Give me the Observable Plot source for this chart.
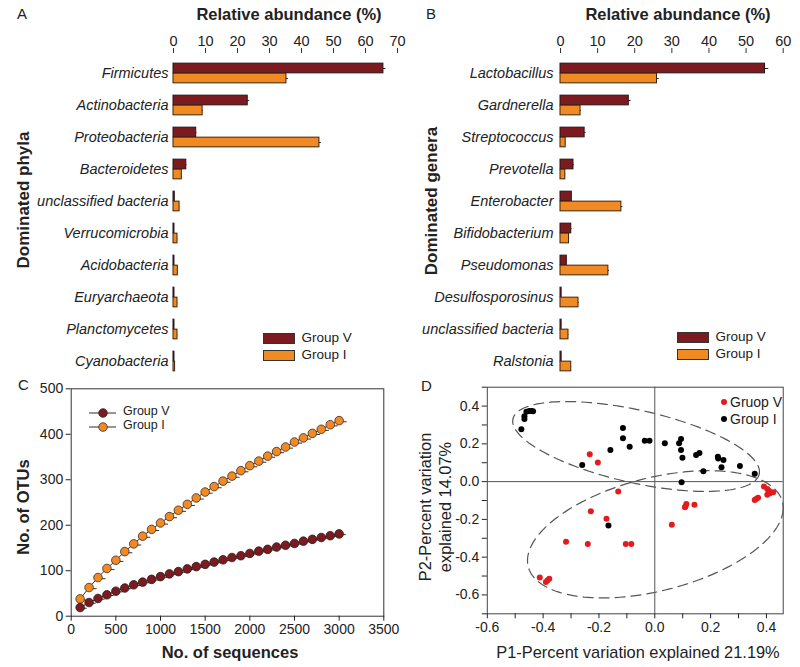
<!DOCTYPE html>
<html><head><meta charset="utf-8">
<script src="https://cdn.jsdelivr.net/npm/d3@7"></script>
<script src="https://cdn.jsdelivr.net/npm/@observablehq/plot@0.6"></script>
<style>
body{margin:0;background:#fff;}
#root{position:relative;width:800px;height:667px;font-family:"Liberation Sans",Arial,sans-serif;color:#222;overflow:hidden;background:#fff}
.p{position:absolute}
.t{position:absolute;white-space:nowrap;line-height:1}
.c{transform:translate(-50%,-50%)}
.r{transform:translate(-50%,-50%) rotate(-90deg)}
</style></head><body><div id="root"></div>
<script>
// ---------- DATA ----------
const groups = ["Group V", "Group I"];
const colorV = "#7B1A1F", colorI = "#F28A24";

// Panel A: dominated phyla (relative abundance %)
const phyla = ["Firmicutes","Actinobacteria","Proteobacteria","Bacteroidetes","unclassified bacteria","Verrucomicrobia","Acidobacteria","Euryarchaeota","Planctomycetes","Cyanobacteria"];
const phylaV = [65.6, 23.2, 7.1, 4.0, 0.4, 0.3, 0.3, 0.3, 0.3, 0.3];
const phylaI = [35.3, 9.1, 45.6, 2.6, 1.9, 1.25, 1.35, 1.25, 1.25, 0.5];
const phylaVErr = [0.8, 0.6, 0.2, 0.2, 0.05, 0.05, 0.05, 0.05, 0.05, 0.05];
const phylaIErr = [0.6, 0.3, 0.6, 0.1, 0.05, 0.05, 0.05, 0.05, 0.05, 0.05];
const phylaTicks = [0, 10, 20, 30, 40, 50, 60, 70];

// Panel B: dominated genera
const genera = ["Lactobacillus","Gardnerella","Streptococcus","Prevotella","Enterobacter","Bifidobacterium","Pseudomonas","Desulfosporosinus","unclassified bacteria","Ralstonia"];
const generaV = [55.1, 18.4, 6.5, 3.5, 3.05, 2.9, 1.7, 0.3, 0.3, 0.3];
const generaI = [26.0, 5.4, 1.4, 1.3, 16.4, 2.3, 12.9, 4.85, 2.15, 2.9];
const generaVErr = [1.0, 0.6, 0.4, 0.2, 0.1, 0.2, 0.1, 0.05, 0.05, 0.05];
const generaIErr = [0.6, 0.2, 0.1, 0.1, 0.4, 0.1, 0.3, 0.2, 0.1, 0.1];
const generaTicks = [0, 10, 20, 30, 40, 50, 60];

// Panel C: rarefaction curves
const sequences = [100,200,300,400,500,600,700,800,900,1000,1100,1200,1300,1400,1500,1600,1700,1800,1900,2000,2100,2200,2300,2400,2500,2600,2700,2800,2900,3000];
const otusV = [19,30,39,47,55,62,69,75,81,87,93,98,104,109,114,119,124,129,133,138,143,147,152,156,160,165,169,173,177,181];
const otusI = [38,63,85,105,123,142,159,176,191,205,219,233,246,260,273,285,297,308,320,331,341,352,362,372,383,392,402,411,421,430];
const otusVErr = 1.5, otusIErr = 2.5;
const seqTicks = [0,500,1000,1500,2000,2500,3000,3500];
const otuTicks = [0,100,200,300,400,500];

// Panel D: PCoA
const pcoaIx = [-0.478,-0.467,-0.467,-0.460,-0.450,-0.442,-0.436,-0.114,-0.114,-0.090,-0.159,-0.260,-0.036,-0.019,0.036,0.087,0.094,0.094,0.099,0.148,0.160,0.174,0.226,0.227,0.239,0.246,0.305,0.358,0.096,-0.166];
const pcoaIy = [0.277,0.332,0.346,0.370,0.374,0.374,0.372,0.284,0.229,0.185,0.168,0.088,0.217,0.217,0.203,0.203,0.226,0.168,0.127,0.141,0.151,0.055,0.132,0.123,0.076,0.115,0.083,0.042,-0.004,-0.233];
const pcoaVx = [-0.233,-0.204,-0.131,-0.229,-0.173,-0.318,-0.240,-0.104,-0.084,-0.412,-0.390,-0.384,-0.378,0.061,0.113,0.110,0.108,0.142,0.358,0.363,0.370,0.391,0.403,0.409,0.403,0.412,0.424];
const pcoaVy = [0.145,0.101,-0.053,-0.157,-0.196,-0.318,-0.330,-0.330,-0.330,-0.508,-0.532,-0.522,-0.515,-0.229,-0.118,-0.132,-0.136,-0.123,-0.097,-0.092,-0.086,-0.026,-0.039,-0.048,-0.069,-0.062,-0.056];
const pcoaXTicks = [-0.6,-0.4,-0.2,0,0.2,0.4];
const pcoaXMinor = [-0.5,-0.3,-0.1,0.1,0.3];
const pcoaYTicks = [-0.6,-0.4,-0.2,0,0.2,0.4];
const pcoaYMinor = [-0.7,-0.5,-0.3,-0.1,0.1,0.3,0.5];
// ellipse parameters (data units): centre, half extents, phase
const ellCx = [-0.067, 0.002];
const ellCy = [0.186, -0.279];
const ellW = [0.442, 0.458];
const ellH = [0.238, 0.337];
const ellPhase = [124.2, 65.6];

// ---------- LAYOUT ----------
const root = document.getElementById("root");
const FONT = '"Liberation Sans", Arial, sans-serif';
function place(node, left, top) {
  const d = document.createElement("div");
  d.className = "p"; d.style.left = left + "px"; d.style.top = top + "px";
  d.appendChild(node); root.appendChild(d); return d;
}
function text(str, x, y, opts = {}) {
  const d = document.createElement("div");
  d.className = "t " + (opts.rot ? "r" : (opts.center ? "c" : ""));
  d.style.left = x + "px"; d.style.top = y + "px";
  d.style.fontSize = (opts.size || 14) + "px";
  if (opts.bold) d.style.fontWeight = "bold";
  if (opts.align) d.style.textAlign = opts.align;
  if (opts.lh) d.style.lineHeight = opts.lh;
  d.innerHTML = str; root.appendChild(d); return d;
}

// ---------- BAR PANELS ----------
function barPanel(cats, vVals, iVals, vErr, iErr, ticks, marginLeft, marginRight, pad) {
  const rows = cats.map((c, i) => ({cat: c, v: vVals[i], iv: iVals[i], ev: vErr[i], ei: iErr[i]}));
  const y0 = 55, y1 = 378;
  const step = (y1 - y0) / cats.length;
  const a = step / 2 - 10, b = step / 2;
  return Plot.plot({
    width: 400, height: 385, marginTop: 52, marginBottom: 7, marginLeft, marginRight,
    style: {fontFamily: FONT, fontSize: "14px", color: "#222", background: "transparent", overflow: "visible"},
    x: {domain: [0, ticks[ticks.length - 1]]},
    y: {type: "band", domain: cats, range: [y0, y1], padding: 0},
    marks: [
      Plot.axisX({anchor: "top", ticks, tickSize: 5, tickPadding: 2, label: null, line: true, stroke: "#333", fontSize: 14.5}),
      Plot.axisY({tickSize: 0, tickPadding: pad, label: null, fontStyle: "italic", fontSize: 14.5}),
      Plot.ruleY(rows, {y: "cat", x1: "v", x2: d => d.v + d.ev, dy: -5, stroke: "#222"}),
      Plot.ruleY(rows, {y: "cat", x1: "iv", x2: d => d.iv + d.ei, dy: 5, stroke: "#222"}),
      Plot.ruleX(rows, {x: d => d.v + d.ev, y: "cat", insetTop: a + 1.5, insetBottom: b + 1.5, stroke: "#222"}),
      Plot.ruleX(rows, {x: d => d.iv + d.ei, y: "cat", insetTop: b + 1.5, insetBottom: a + 1.5, stroke: "#222"}),
      Plot.barX(rows, {y: "cat", x: "v", fill: colorV, stroke: "#2b1416", strokeWidth: 1, insetTop: a, insetBottom: b}),
      Plot.barX(rows, {y: "cat", x: "iv", fill: colorI, stroke: "#3a2410", strokeWidth: 1, insetTop: b, insetBottom: a})
    ]
  });
}
place(barPanel(phyla, phylaV, phylaI, phylaVErr, phylaIErr, phylaTicks, 173, 3, 5), 0, 0);
place(barPanel(genera, generaV, generaI, generaVErr, generaIErr, generaTicks, 160, 17.3, 7), 400, 0);

// titles / labels for A,B
text("A", 17, 6, {size: 15});
text("B", 426, 6, {size: 15});
text("Relative abundance (%)", 289, 14, {center: true, bold: true, size: 16.5});
text("Relative abundance (%)", 678, 14, {center: true, bold: true, size: 16.5});
text("Dominated phyla", 23, 200, {rot: true, bold: true, size: 17});
text("Dominated genera", 431, 201, {rot: true, bold: true, size: 17});

// bar legends
function barLegend(left, top) {
  groups.forEach((g, i) => {
    const box = document.createElement("div");
    box.style.cssText = `position:absolute;left:${left}px;top:${top + i * 17}px;width:30px;height:9px;background:${i ? colorI : colorV};border:1px solid #333`;
    root.appendChild(box);
    text(g, left + 39, top + 5 + i * 17, {size: 13.5}).style.transform = "translateY(-50%)";
  });
}
barLegend(262.5, 332.5);
barLegend(676.5, 331.5);

// ---------- PANEL C ----------
const rareV = sequences.map((s, i) => ({x: s, y: otusV[i], e: otusVErr}));
const rareI = sequences.map((s, i) => ({x: s, y: otusI[i], e: otusIErr}));
const plotC = Plot.plot({
  width: 400, height: 297, marginLeft: 70.7, marginRight: 16.7, marginTop: 18.3, marginBottom: 51.3,
  style: {fontFamily: FONT, fontSize: "14px", color: "#222", background: "transparent", overflow: "visible"},
  x: {domain: [0, 3500]},
  y: {domain: [0, 500]},
  marks: [
    Plot.frame({stroke: "#333"}),
    Plot.axisX({ticks: seqTicks, tickSize: 5, tickPadding: 3, tickFormat: d => String(d), label: null}),
    Plot.axisY({ticks: otuTicks, tickSize: 5, tickPadding: 3, tickFormat: d => String(d), label: null}),
    Plot.line(rareI, {x: "x", y: "y", stroke: "#3a2a22", strokeWidth: 1}),
    Plot.line(rareV, {x: "x", y: "y", stroke: "#3a2a22", strokeWidth: 1}),
    Plot.ruleY(rareI, {x1: d => d.x - 20, x2: d => d.x + 90, y: d => d.y - d.e, stroke: "#333", strokeWidth: 1}),
    Plot.ruleY(rareV, {x1: d => d.x - 20, x2: d => d.x + 80, y: d => d.y - d.e, stroke: "#333", strokeWidth: 1}),
    Plot.dot(rareI, {x: "x", y: "y", r: 4.3, fill: colorI, stroke: "#3a2a22", strokeWidth: 0.8}),
    Plot.dot(rareV, {x: "x", y: "y", r: 4.3, fill: colorV, stroke: "#2a1a1a", strokeWidth: 0.8})
  ]
});
place(plotC, 0, 370);
text("C", 18, 377, {size: 15});
text("No. of OTUs", 23, 507, {rot: true, bold: true, size: 16.5});
text("No. of sequences", 230, 652, {center: true, bold: true, size: 16.5});
// C legend
groups.forEach((g, i) => {
  const ns = "http://www.w3.org/2000/svg";
  const svg = document.createElementNS(ns, "svg");
  svg.setAttribute("width", 30); svg.setAttribute("height", 12);
  const ln = document.createElementNS(ns, "line");
  ln.setAttribute("x1", 1); ln.setAttribute("x2", 28); ln.setAttribute("y1", 6); ln.setAttribute("y2", 6);
  ln.setAttribute("stroke", "#3a2a22"); svg.appendChild(ln);
  const c = document.createElementNS(ns, "circle");
  c.setAttribute("cx", 15); c.setAttribute("cy", 6); c.setAttribute("r", 4.3);
  c.setAttribute("fill", i ? colorI : colorV); c.setAttribute("stroke", "#3a2a22"); c.setAttribute("stroke-width", 0.8);
  svg.appendChild(c);
  place(svg, 87.5, 405 + i * 14);
  text(g, 123, 411 + i * 14, {size: 12.5}).style.transform = "translateY(-50%)";
});

// ---------- PANEL D ----------
const ptsI = pcoaIx.map((x, i) => ({x, y: pcoaIy[i]}));
const ptsV = pcoaVx.map((x, i) => ({x, y: pcoaVy[i]}));
const ellPts = [];
ellCx.forEach((cx, k) => {
  const ph = ellPhase[k] * Math.PI / 180;
  for (let deg = 0; deg <= 360; deg += 2) {
    const t = deg * Math.PI / 180;
    ellPts.push({k, x: cx + ellW[k] * Math.cos(t), y: ellCy[k] + ellH[k] * Math.cos(t + ph)});
  }
});
const fmt = d => d.toFixed(1);
const plotD = Plot.plot({
  width: 400, height: 297, marginLeft: 86.8, marginRight: 17.3, marginTop: 16.7, marginBottom: 53.7,
  style: {fontFamily: FONT, fontSize: "14px", color: "#222", background: "transparent", overflow: "visible"},
  x: {domain: [-0.6, 0.46]},
  y: {domain: [-0.7, 0.5]},
  marks: [
    Plot.frame({stroke: "#444"}),
    Plot.axisX({ticks: pcoaXTicks, tickSize: 5, tickPadding: 3, tickFormat: fmt, label: null}),
    Plot.axisX({ticks: pcoaXMinor, tickSize: 5, tickFormat: () => "", label: null}),
    Plot.axisY({ticks: pcoaYTicks, tickSize: 5, tickPadding: 3, tickFormat: fmt, label: null}),
    Plot.axisY({ticks: pcoaYMinor, tickSize: 5, tickFormat: () => "", label: null}),
    Plot.ruleX([0], {stroke: "#555", strokeWidth: 1}),
    Plot.ruleY([0], {stroke: "#555", strokeWidth: 1}),
    Plot.line(ellPts, {x: "x", y: "y", z: "k", stroke: "#555", strokeWidth: 1.2, strokeDasharray: "10,6", clip: false}),
    Plot.dot(ptsI, {x: "x", y: "y", r: 3, fill: "#000"}),
    Plot.dot(ptsV, {x: "x", y: "y", r: 3, fill: "#E21B1E"})
  ]
});
place(plotD, 400, 370);
text("D", 421, 378, {size: 15});
text("P1-Percent variation explained 21.19%", 638, 652, {center: true, size: 16.4});
text("P2-Percent variation<br>explained 14.07%", 435, 507, {rot: true, size: 16.4, align: "center", lh: "20px"});
// D legend
[["Gruop V", "#E21B1E"], ["Group I", "#000"]].forEach(([g, col], i) => {
  const dot = document.createElement("div");
  dot.style.cssText = `position:absolute;left:${721}px;top:${399 + i * 17}px;width:6px;height:6px;border-radius:50%;background:${col}`;
  root.appendChild(dot);
  text(g, 730, 402 + i * 17, {size: 14}).style.transform = "translateY(-50%)";
});
</script></body></html>
